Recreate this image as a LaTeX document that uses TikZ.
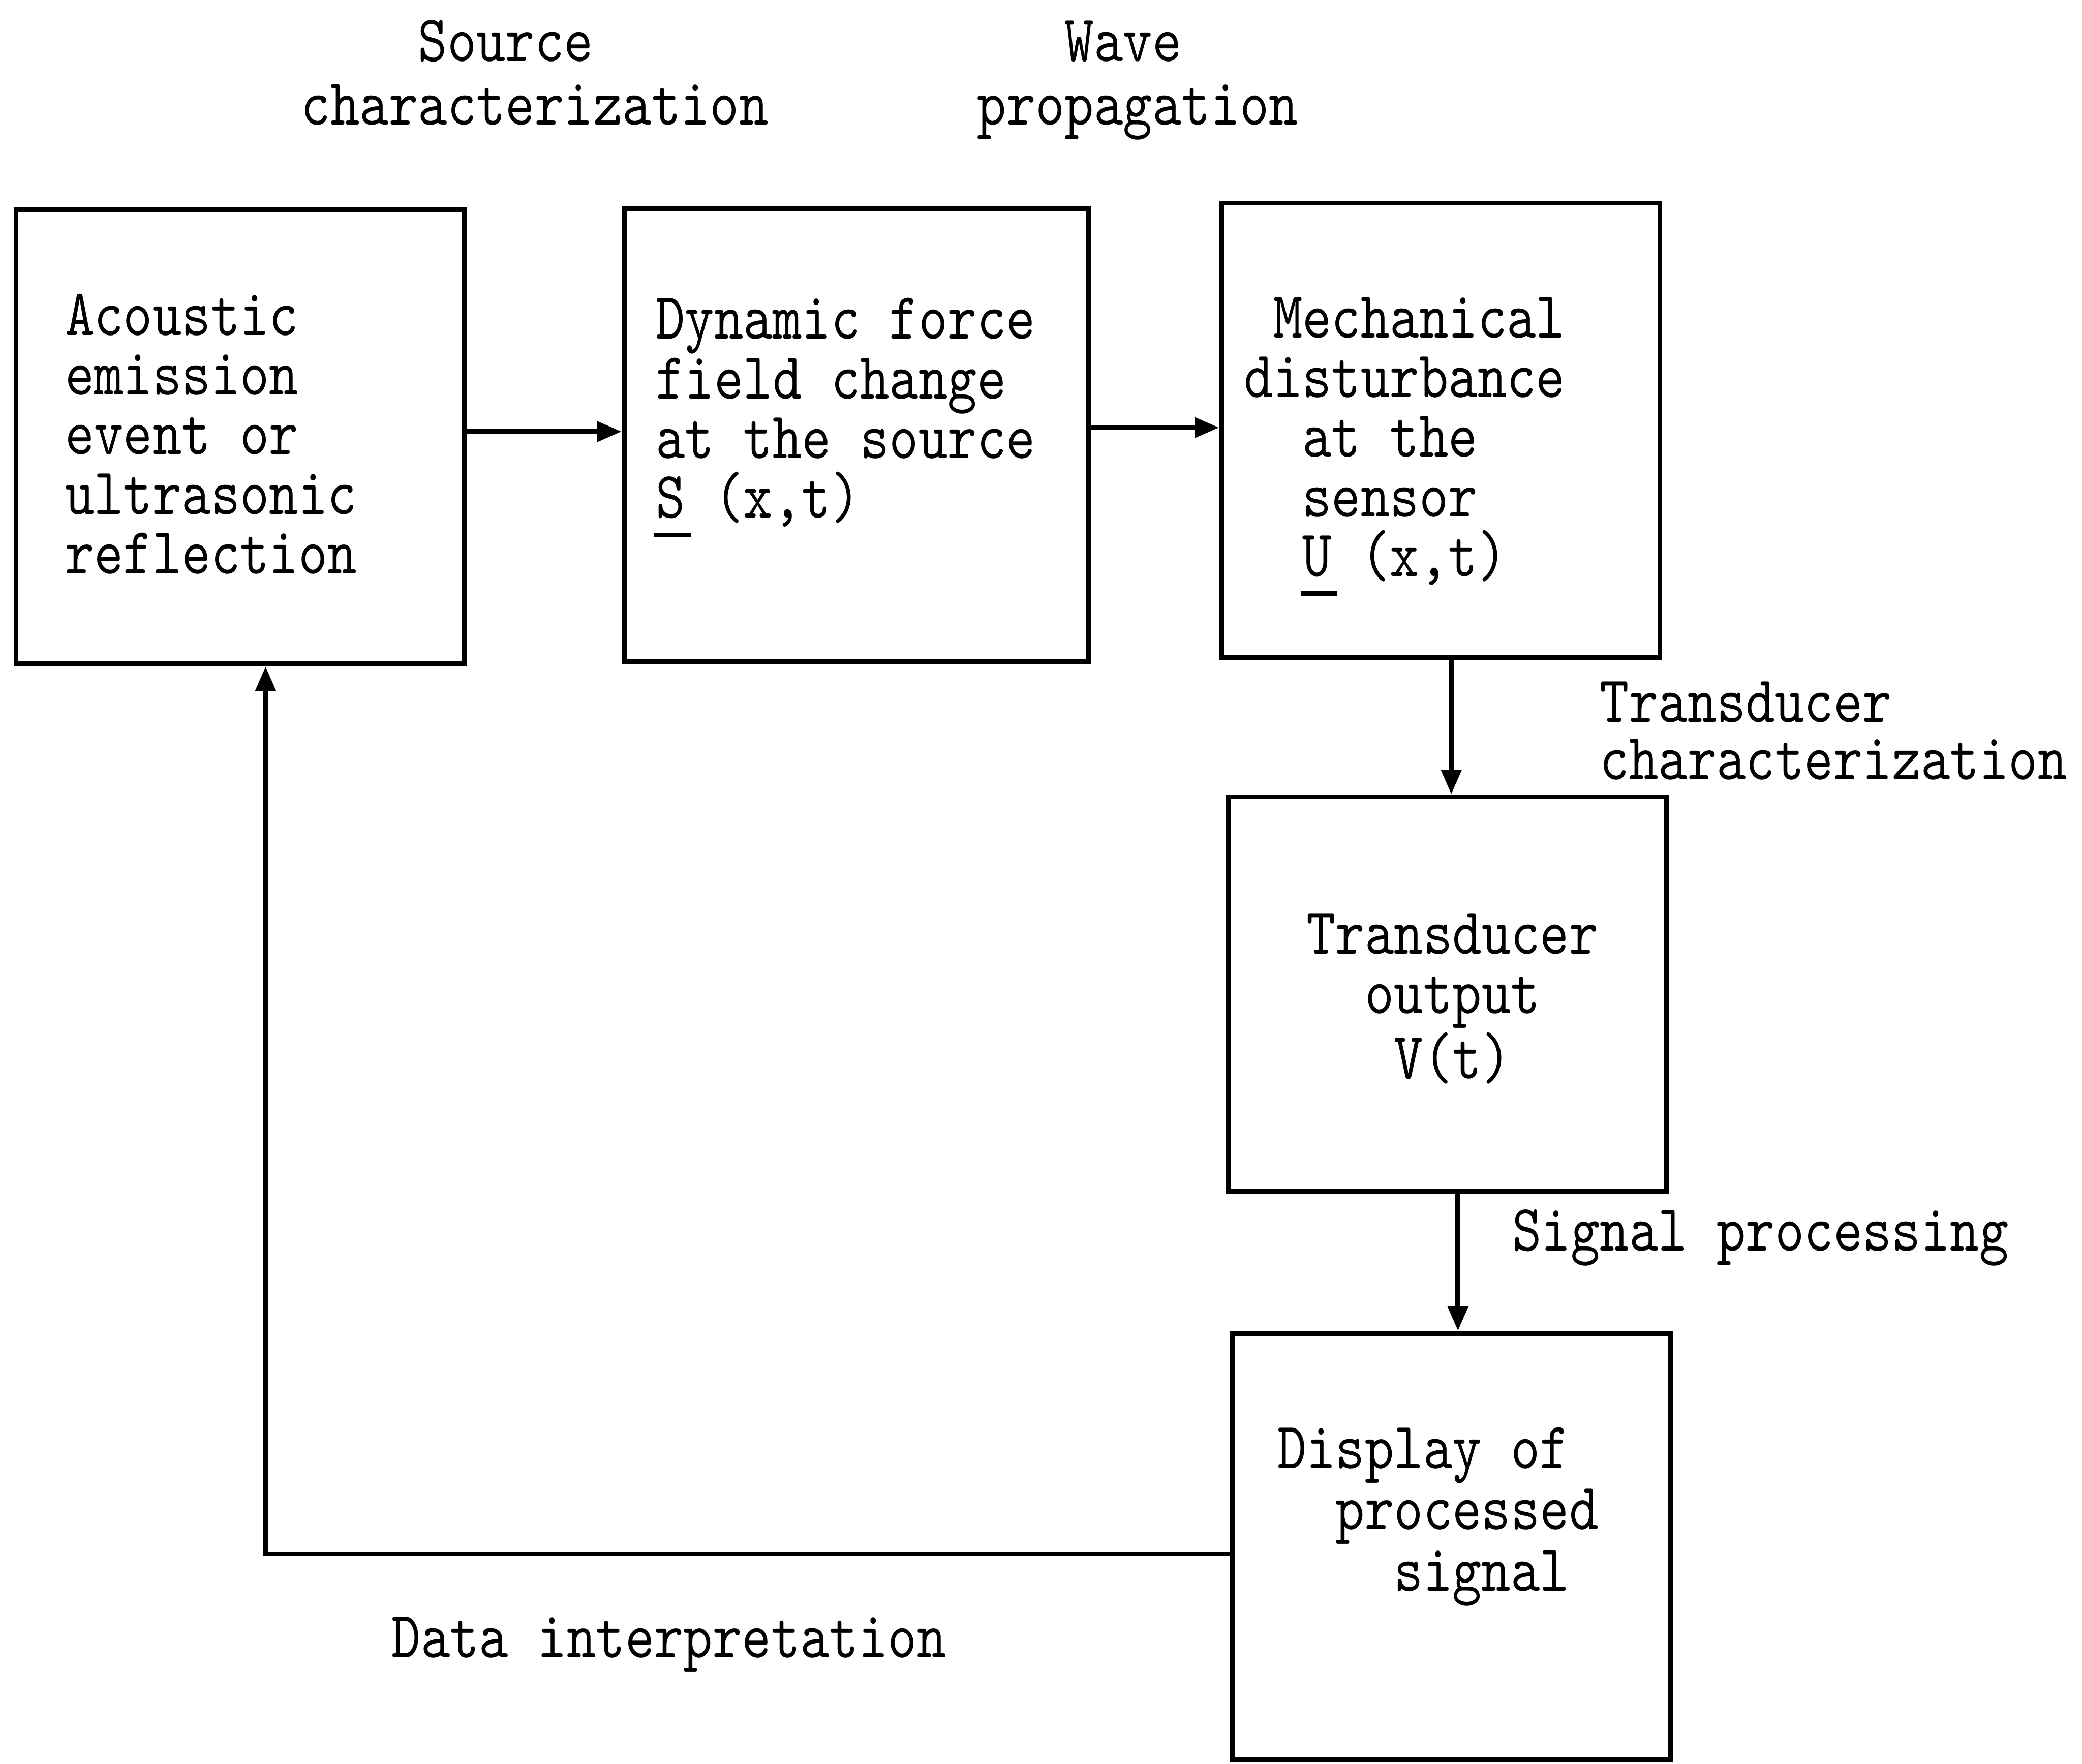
\documentclass[tikz,border=0pt]{standalone}
\usepackage{fontspec}
\newfontfamily\tw{lmmono10-regular.otf}[FakeStretch=0.84]
\usetikzlibrary{arrows.meta}
\newcommand\ulc[1]{\leavevmode\rlap{\kern-0.4pt\rule[-4.8pt]{8.9pt}{1.2pt}}#1}
\begin{document}
\begin{tikzpicture}[x=0.325pt,y=-0.325pt,
  box/.style={draw,line width=1.2pt,inner sep=0pt},
  txt/.style={inner sep=0pt,outer sep=0pt,anchor=base west,align=left,
    font=\tw\fontsize{16.2}{14.6}\selectfont},
  arr/.style={line width=1.2pt,-{Triangle[length=6pt,width=4.8pt]}}]
\useasboundingbox (0,0) rectangle (1568,1328);
% boxes
\node[box,minimum width=109.85pt,minimum height=111.15pt] (b1) at (181,329) {};
\node[box,minimum width=113.75pt,minimum height=110.8pt] (b2) at (645,327.5) {};
\node[box,minimum width=107.25pt,minimum height=111.15pt] (b3) at (1085,324) {};
\node[box,minimum width=107.25pt,minimum height=96.5pt] (b4) at (1090,748.5) {};
\node[box,minimum width=107.25pt,minimum height=104.3pt] (b5) at (1093,1164.5) {};
% box texts (positioned at the baseline of their last line)
\node[txt] (t1) at (49,432) {Acoustic\\emission\\event or\\ultrasonic\\reflection};
\node[txt] (t2) at (494,390) {Dynamic force\\field change\\at the source\\\ulc{S} (x,t)};
\node[txt] (t3) at (937,434) {\hphantom{x}Mechanical\\disturbance\\\hphantom{xx}at the\\\hphantom{xx}sensor\\\hphantom{xx}\ulc{U} (x,t)};
\node[txt] (t4) at (984,812) {Transducer\\\hphantom{xx}output\\\hphantom{xxx}V(t)};
\node[txt] (t5) at (962,1198) {Display of\\[0.4pt]\hphantom{xx}processed\\[0.4pt]\hphantom{xxxx}signal};
% labels
\node[txt] (l1) at (227,94) {\hphantom{xxxx}Source\\[1pt]characterization};
\node[txt] (l2) at (736,94) {\hphantom{xxx}Wave\\[1pt]propagation};
\node[txt] (l3) at (1205,587) {Transducer\\[-0.6pt]characterization};
\node[txt] (l4) at (1139,942) {Signal processing};
\node[txt] (l5) at (295,1248) {Data interpretation};
% connectors
\draw[arr] (b1.east |- 0,325) -- (b2.west |- 0,325);
\draw[arr] (b2.east |- 0,322) -- (b3.west |- 0,322);
\draw[arr] (b3.south -| 1093,0) -- (b4.north -| 1093,0);
\draw[arr] (b4.south -| 1098,0) -- (b5.north -| 1098,0);
\draw[arr] (b5.west |- 0,1170) -| (b1.south -| 200,0);
\end{tikzpicture}
\end{document}
